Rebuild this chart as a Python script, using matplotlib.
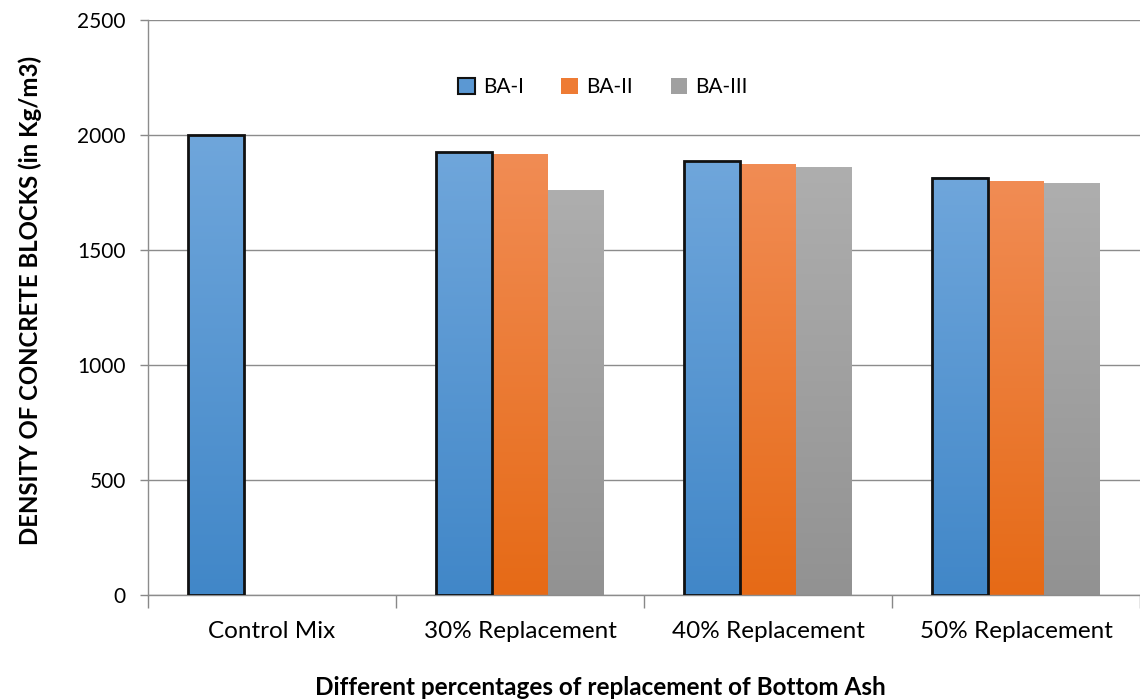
import numpy as np
import matplotlib
matplotlib.use('Agg')
import matplotlib.pyplot as plt
from matplotlib.patches import Patch, Rectangle
from matplotlib.colors import LinearSegmentedColormap

plt.rcParams['font.family'] = ['Lato', 'DejaVu Sans']

# density of blocks for each mix
categories = ['Control Mix', '30% Replacement', '40% Replacement', '50% Replacement']
series = ['BA-I', 'BA-II', 'BA-III']
ba_1 = [2000, 1925, 1885, 1815]
ba_2 = [0, 1917, 1870, 1796]
ba_3 = [0, 1757, 1857, 1787]
yticks = [0, 500, 1000, 1500, 2000, 2500]

# top / bottom shades of each bar's gradient fill
shades = [('#6fa6db', '#4187c8'), ('#f18c54', '#e66a16'), ('#aeaeae', '#929292')]
mid = ['#5b98d3', '#ee7b34', '#a0a0a0']

fig = plt.figure(figsize=(11.4, 7), dpi=100)
ax = fig.add_axes([148 / 1140, 105 / 700, 992 / 1140, 575 / 700])

width = 0.225
x = np.arange(len(categories))
values = [ba_1, ba_2, ba_3]
grad = np.linspace(0, 1, 256).reshape(-1, 1)

for i, vals in enumerate(values):
    cmap = LinearSegmentedColormap.from_list('g%d' % i, [shades[i][1], shades[i][0]])
    for xi, v in zip(x, vals):
        if v <= 0:
            continue
        x0 = xi + (i - 1) * width - width / 2
        ax.imshow(grad, extent=(x0, x0 + width, 0, v), origin='lower', aspect='auto',
                  cmap=cmap, zorder=2, interpolation='bilinear')
        if i == 0:
            ax.add_patch(Rectangle((x0, 0), width, v, facecolor='none',
                                   edgecolor='#111111', linewidth=2, zorder=3))

ax.set_xlim(-0.5, -0.5 + 992 / 249)
ax.set_ylim(0, 2500)
ax.set_yticks(yticks)
ax.set_yticklabels([str(t) for t in yticks], fontsize=15)
ax.set_xticks(x)
ax.set_xticklabels(categories, fontsize=17.5)
ax.set_xticks(np.arange(-0.5, 4, 1), minor=True)
ax.tick_params(axis='x', which='major', length=0, pad=19)
ax.tick_params(axis='x', which='minor', length=9, color='#888888', width=1)
ax.tick_params(axis='y', length=6, color='#888888', width=1, pad=10)

ax.grid(axis='y', color='#8c8c8c', linewidth=1, zorder=0)
ax.set_axisbelow(True)
for s in ['top', 'right']:
    ax.spines[s].set_visible(False)
for s in ['left', 'bottom']:
    ax.spines[s].set_color('#8c8c8c')
    ax.spines[s].set_linewidth(1)

ax.set_ylabel('DENSITY OF CONCRETE BLOCKS (in Kg/m3)', fontsize=17.3, fontweight='bold',
              va='center')
ax.yaxis.set_label_coords(-(148 - 30) / 992, (595 - 300) / 575)
ax.set_xlabel('Different percentages of replacement of Bottom Ash', fontsize=17.5,
              fontweight='bold')
ax.xaxis.set_label_coords((600 - 148) / 992, -(700 - 595 - 24) / 575)

handles = [Patch(facecolor=mid[0], edgecolor='#111111', linewidth=1.5, label=series[0]),
           Patch(facecolor=mid[1], edgecolor='none', label=series[1]),
           Patch(facecolor=mid[2], edgecolor='none', label=series[2])]
ax.legend(handles=handles, loc='center', bbox_to_anchor=((603 - 148) / 992, (595 - 87) / 575),
          ncol=3, frameon=False, fontsize=15, handlelength=0.8, handleheight=0.8,
          handletextpad=0.4, columnspacing=1.8)

fig.savefig('out.png', dpi=100)
